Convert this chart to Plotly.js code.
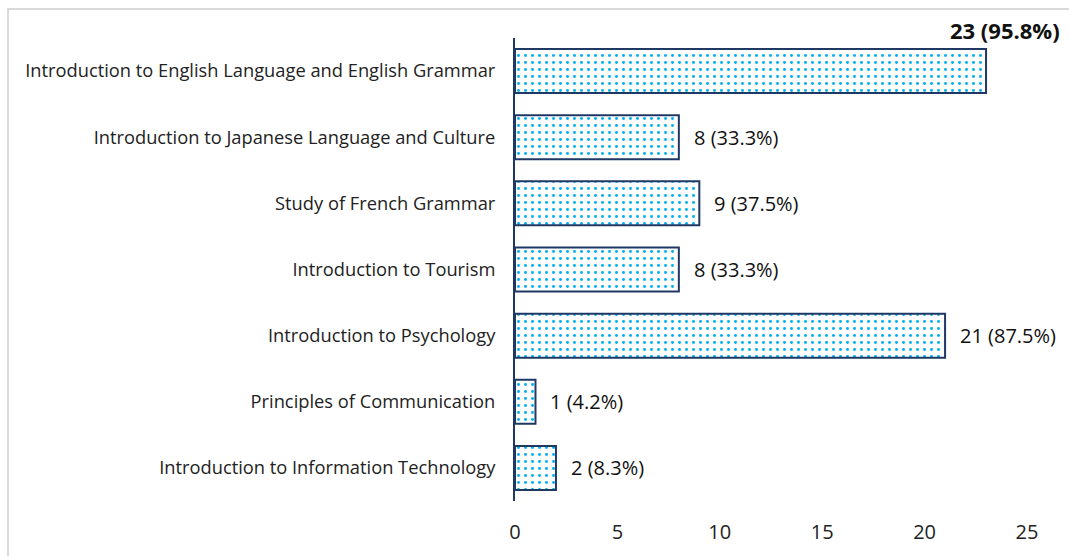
<!DOCTYPE html>
<html><head><meta charset="utf-8">
<script src="https://cdn.plot.ly/plotly-3.0.1.min.js"></script>
<style>
html,body{margin:0;padding:0;background:#fff;}
#wrap{position:relative;width:1069px;height:556px;}
#chart{position:absolute;left:0;top:0;width:1069px;height:556px;}
#frame{position:absolute;left:7px;top:8px;width:1080px;height:560px;border-left:2px solid #d9d9d9;border-top:2px solid #d9d9d9;pointer-events:none;}
</style></head>
<body><div id="wrap"><div id="chart"></div><div id="frame"></div></div>
<script>
const categories = [
  "Introduction to English Language and English Grammar",
  "Introduction to Japanese Language and Culture",
  "Study of French Grammar",
  "Introduction to Tourism",
  "Introduction to Psychology",
  "Principles of Communication",
  "Introduction to Information Technology"
];
const counts = [23, 8, 9, 8, 21, 1, 2];
const percents = ["95.8%", "33.3%", "37.5%", "33.3%", "87.5%", "4.2%", "8.3%"];
const xTicks = [0, 5, 10, 15, 20, 25];

const cats = categories.slice().reverse();
const vals = counts.slice().reverse();

const FONT = 'Open Sans, Noto Sans, sans-serif';

const trace = {
  type: 'bar', orientation: 'h',
  y: cats, x: vals,
  marker: {
    color: '#ffffff',
    line: {color: '#1F3864', width: 2},
    pattern: {shape: '.', fgcolor: '#00B0F0', bgcolor: '#ffffff', size: 7, solidity: 0.14}
  },
  hoverinfo: 'skip'
};

const annotations = [];
const maxIdx = counts.indexOf(Math.max(...counts));
categories.forEach((c, i) => {
  const label = counts[i] + ' (' + percents[i] + ')';
  if (i === maxIdx) {
    annotations.push({
      x: 1, xref: 'paper', xanchor: 'right', xshift: 35,
      y: c, yref: 'y', yanchor: 'middle', yshift: 41,
      text: '<b>' + label + '</b>', showarrow: false,
      font: {family: FONT, size: 22, color: '#111'}
    });
  } else {
    annotations.push({
      x: counts[i], xref: 'x', xanchor: 'left', xshift: 13,
      y: c, yref: 'y', yanchor: 'middle',
      text: label, showarrow: false,
      font: {family: FONT, size: 20, color: '#111'}
    });
  }
});

const layout = {
  width: 1069, height: 556,
  margin: {l: 515, r: 42, t: 38, b: 55},
  paper_bgcolor: 'rgba(0,0,0,0)', plot_bgcolor: 'rgba(0,0,0,0)',
  bargap: 0.335,
  showlegend: false,
  font: {family: FONT, color: '#222'},
  xaxis: {
    range: [0, 25], tickvals: xTicks, ticktext: xTicks.map(String),
    showgrid: false, zeroline: false, showline: false,
    ticks: 'outside', ticklen: 13, tickcolor: 'rgba(0,0,0,0)',
    tickfont: {size: 20, color: '#222'}, fixedrange: true
  },
  yaxis: {
    type: 'category', categoryorder: 'array', categoryarray: cats,
    range: [-0.5, cats.length - 0.5],
    showgrid: false, zeroline: false,
    showline: true, linecolor: '#1F3864', linewidth: 2,
    ticks: 'outside', ticklen: 14, tickcolor: 'rgba(0,0,0,0)',
    tickfont: {size: 18.3, color: '#222'}, fixedrange: true
  },
  annotations: annotations
};

Plotly.newPlot('chart', [trace], layout, {staticPlot: true, displayModeBar: false});
</script></body></html>
